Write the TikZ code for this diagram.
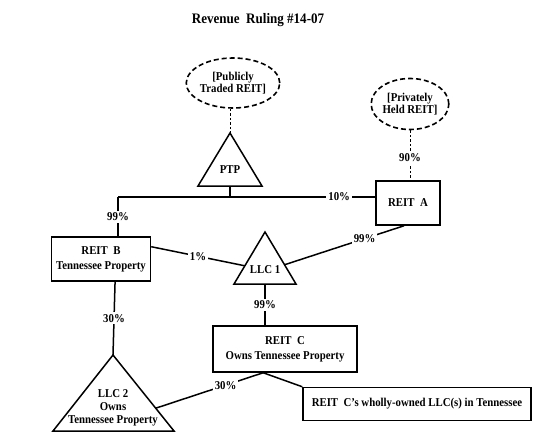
\documentclass[tikz,border=0pt]{standalone}
\usepackage{fontspec}
\setmainfont{Liberation Serif}[FakeStretch=0.9]
\usetikzlibrary{calc,shapes.geometric}

\begin{document}
\begin{tikzpicture}[x=1pt,y=-1pt,line width=1.5pt,
    font=\bfseries\fontsize{12}{15}\selectfont,
    entity/.style={draw,rectangle,inner sep=0pt,align=center},
    owner/.style={draw,ellipse,inner sep=0pt,line width=1.6pt,dash pattern=on 5pt off 3pt,align=center},
    share/.style={fill=white,inner sep=2pt},
    thin dash/.style={line width=0.9pt,dash pattern=on 2.5pt off 2pt}]
        \useasboundingbox (0,0) rectangle (543,444);
        \node (title) at (258,20) {\fontsize{14.5}{16}\selectfont Revenue\ \ Ruling \#14-07};
        % owners at the top
        \node[owner,minimum width=82pt,minimum height=50pt] (pub) at (233,83) {[Publicly\\[-3pt]Traded REIT]};
        \node[owner,minimum width=75pt,minimum height=51pt] (priv) at (410,104) {[Privately\\[-3pt]Held REIT]};
        % boxes
        \node[entity,minimum width=64pt,minimum height=44pt] (reitA) at (408,203) {REIT\ \ A};
        \node[entity,minimum width=99pt,minimum height=44pt] (reitB) at (101,259) {REIT\ \ B\\[0pt]Tennessee Property};
        \node[entity,minimum width=144pt,minimum height=46pt] (reitC) at (285,349) {REIT\ \ C\\[0pt]Owns Tennessee Property};
        \node[entity,minimum width=228pt,minimum height=33pt] (own) at (417,404) {REIT\ \ C’s wholly-owned LLC(s) in Tennessee};
        % triangles
        \coordinate (ptpT) at (230,133);
        \coordinate (ptpL) at (198,186);
        \coordinate (ptpR) at (262,186);
        \draw (ptpT)--(ptpL)--(ptpR)--cycle;
        \node (ptp) at (230,170) {PTP};
        \coordinate (l1T) at (265,232);
        \coordinate (l1L) at (234,284);
        \coordinate (l1R) at (296,284);
        \draw (l1T)--(l1L)--(l1R)--cycle;
        \node (llc1) at (265,270) {LLC 1};
        \coordinate (l2T) at (113,355);
        \coordinate (l2L) at (53,431);
        \coordinate (l2R) at (174,431);
        \draw (l2T)--(l2L)--(l2R)--cycle;
        \node[align=center] (llc2) at (113,408) {LLC 2\\[-2pt]Owns\\[-2pt]Tennessee Property};
        % ownership lines
        \draw[thin dash] (ptpT |- pub.south) -- (ptpT);
        \draw[thin dash] (priv.south) -- (priv.south |- reitA.north) node[share,pos=0.55] {90\%};
        \coordinate (ptpB) at ($(ptpL)!0.5!(ptpR)$);
        \coordinate (bar) at (ptpB |- 0,197);
        \coordinate (barL) at (118,197);
        \draw (ptpB) -- (bar);
        \draw (barL) -- (bar -| reitA.west) node[share,pos=0.86] {10\%};
        \draw (barL) -- (barL |- reitB.north) node[share,midway] {99\%};
        \draw ($(reitB.north east)!0.23!(reitB.south east)$) -- ($(l1T)!0.65!(l1L)$) node[share,midway] {1\%};
        \draw ($(reitA.south west)!0.44!(reitA.south east)$) -- ($(l1T)!0.63!(l1R)$) node[share,pos=0.33] {99\%};
        \coordinate (l1B) at ($(l1L)!0.5!(l1R)$);
        \draw (l1B) -- (l1B |- reitC.north) node[share,midway] {99\%};
        \draw ($(reitB.south west)!0.64!(reitB.south east)$) -- (l2T) node[share,midway] {30\%};
        \coordinate (cB) at ($(reitC.south west)!0.35!(reitC.south east)$);
        \draw (cB) -- ($(l2T)!0.7!(l2R)$) node[share,pos=0.35] {30\%};
        \draw (cB) -- (own.north west);
    \end{tikzpicture}
\end{document}
